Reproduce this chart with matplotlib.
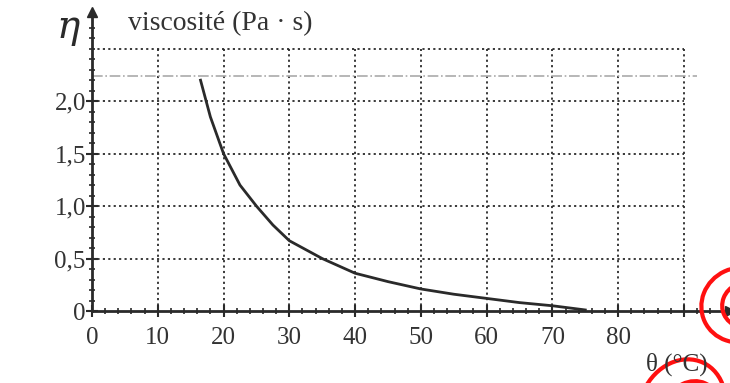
import numpy as np
import matplotlib
matplotlib.use('Agg')
import matplotlib.pyplot as plt
from matplotlib.patches import Ellipse
from matplotlib.ticker import MultipleLocator, FixedLocator

# viscosity curve
temperature = [16.5, 18, 20, 22.5, 25, 27.5, 30, 35, 40, 45, 50, 55, 60, 65, 70, 75]
viscosity = [2.2, 1.85, 1.5, 1.2, 1.0, 0.82, 0.67, 0.5, 0.36, 0.28, 0.21, 0.16, 0.12, 0.08, 0.05, 0.01]

x_grid = [10, 20, 30, 40, 50, 60, 70, 80, 90]
y_grid = [0.5, 1.0, 1.5, 2.0, 2.5]
x_ticks = [0, 10, 20, 30, 40, 50, 60, 70, 80, 90]
x_ticklabels = ['0', '10', '20', '30', '40', '50', '60', '70', '80', '']
y_ticks = [0, 0.5, 1.0, 1.5, 2.0]
y_ticklabels = ['0', '0,5', '1,0', '1,5', '2,0']
faint_line = 2.24

ink = '#2a2a2a'
serif = ['Liberation Serif', 'DejaVu Serif']
plt.rcParams['font.family'] = serif

W, H = 730, 383
fig = plt.figure(figsize=(W / 100, H / 100), dpi=100)
ax = fig.add_axes([92 / W, (H - 311) / H, 638 / W, 299 / H])
ax.set_xlim(0, 97)
ax.set_ylim(0, 2.85)

# dotted paper grid
ax.vlines(x_grid, 0, max(y_grid), colors=ink, linestyles=(0, (1.2, 1.8)), linewidth=1.3)
ax.hlines(y_grid, 0, max(x_grid), colors=ink, linestyles=(0, (1.2, 1.8)), linewidth=1.3)
ax.hlines(faint_line, 0, 92, colors='#aaaaaa', linestyles='-.', linewidth=1.2)

ax.plot(temperature, viscosity, color=ink, linewidth=2)

for side in ['top', 'right']:
    ax.spines[side].set_visible(False)
for side in ['left', 'bottom']:
    ax.spines[side].set_linewidth(2)
    ax.spines[side].set_color(ink)
ax.plot(1, 0, '>', color=ink, markersize=7, transform=ax.transAxes, clip_on=False)
ax.plot(0, 1, '^', color=ink, markersize=7, transform=ax.transAxes, clip_on=False)

ax.xaxis.set_major_locator(FixedLocator(x_ticks))
ax.set_xticklabels(x_ticklabels)
ax.xaxis.set_minor_locator(MultipleLocator(2))
ax.yaxis.set_major_locator(FixedLocator(y_ticks))
ax.set_yticklabels(y_ticklabels)
ax.yaxis.set_minor_locator(MultipleLocator(0.1))
ax.tick_params(which='major', direction='inout', length=9, width=1.5, color=ink,
               labelsize=18, labelcolor='#333333')
ax.tick_params(which='minor', direction='inout', length=5, width=1.2, color=ink)
ax.tick_params(axis='x', pad=7)
ax.tick_params(axis='y', pad=0)

fig.text(56 / W, (H - 27) / H, 'η', fontsize=28, color=ink, va='center', ha='left',
         family=['DejaVu Serif'], style='italic')
fig.text(128 / W, (H - 24) / H, 'viscosité (Pa · s)', fontsize=20, color='#333333',
         va='center', ha='left')
fig.text(646 / W, (H - 364) / H, 'θ (°C)', fontsize=18, color='#333333', va='center', ha='left')

# red pen marks on the scan
for cx, cy, w, h, ang in [(740, 305, 78, 74, 25), (745, 305, 46, 44, 25),
                          (682, 408, 84, 100, -25), (690, 416, 58, 72, -25)]:
    fig.add_artist(Ellipse((cx / 100, (H - cy) / 100), w / 100, h / 100, angle=ang,
                           transform=fig.dpi_scale_trans, fill=False,
                           edgecolor='#ff1010', linewidth=3))

fig.savefig('out.png', dpi=100)
